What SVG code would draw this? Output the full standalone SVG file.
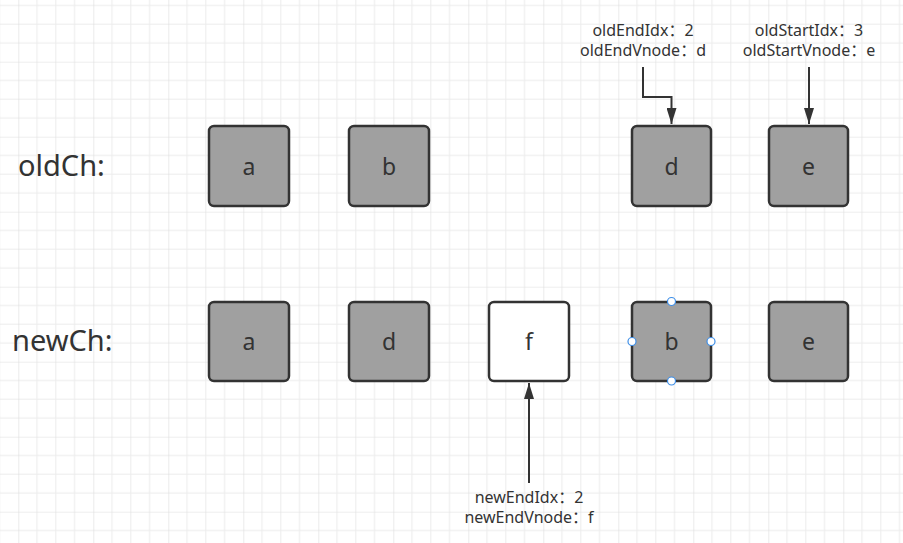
<svg xmlns="http://www.w3.org/2000/svg" width="903" height="543" viewBox="0 0 903 543">
  <defs>
    <pattern id="grid" patternUnits="userSpaceOnUse" x="18.3" y="-13.3" width="75" height="75">
      <rect width="75" height="75" fill="#ffffff"/>
      <path d="M18.75 0V75M37.5 0V75M56.25 0V75M0 18.75H75M0 37.5H75M0 56.25H75" stroke="#ececec" stroke-width="1" fill="none"/>
      <path d="M0 0V75M0 0H75" stroke="#dedede" stroke-width="1.2" fill="none"/>
    </pattern>
    <marker id="arrow" viewBox="0 0 16 10" refX="16" refY="5" markerWidth="16" markerHeight="10" markerUnits="userSpaceOnUse" orient="auto">
      <path d="M0 0L16 5L0 10Z" fill="#333333"/>
    </marker>
    <style>
      .box { stroke: #333333; stroke-width: 2.5; }
      .gray { fill: #a0a0a0; }
      .white { fill: #ffffff; }
      .lbl { font-family: "Noto Sans", "Noto Sans CJK SC", sans-serif; font-size: 23px; fill: #333333; text-anchor: middle; }
      .row { font-family: "Noto Sans", "Noto Sans CJK SC", sans-serif; font-size: 29px; fill: #333333; }
      .ann { font-family: "Noto Sans", "Noto Sans CJK SC", sans-serif; font-size: 16px; fill: #333333; text-anchor: middle; }
      .conn { stroke: #333333; stroke-width: 2; fill: none; marker-end: url(#arrow); }
      .handle { fill: #ffffff; stroke: #3d8ee8; stroke-width: 1.2; }
    </style>
  </defs>
  <rect width="903" height="543" fill="url(#grid)"/>

  <text class="row" x="18" y="176">oldCh:</text>
  <text class="row" x="12" y="351">newCh:</text>

  <g id="old-a"><rect class="box gray" x="209" y="126" width="80" height="80" rx="5"/><text class="lbl" x="249" y="175">a</text></g>
  <g id="old-b"><rect class="box gray" x="349" y="126" width="80" height="80" rx="5"/><text class="lbl" x="389" y="175">b</text></g>
  <g id="old-d"><rect class="box gray" x="632" y="126" width="79" height="80" rx="5"/><text class="lbl" x="671.5" y="175">d</text></g>
  <g id="old-e"><rect class="box gray" x="769" y="126" width="79" height="80" rx="5"/><text class="lbl" x="808.5" y="175">e</text></g>

  <g id="new-a"><rect class="box gray" x="209" y="302" width="80" height="79" rx="5"/><text class="lbl" x="249" y="350">a</text></g>
  <g id="new-d"><rect class="box gray" x="349" y="302" width="80" height="79" rx="5"/><text class="lbl" x="389" y="350">d</text></g>
  <g id="new-f"><rect class="box white" x="489" y="302" width="80" height="79" rx="5"/><text class="lbl" x="529" y="350">f</text></g>
  <g id="new-b"><rect class="box gray" x="632" y="302" width="79" height="79" rx="5"/><text class="lbl" x="671.5" y="350">b</text>
    <circle class="handle" cx="671.5" cy="301.5" r="4"/>
    <circle class="handle" cx="632" cy="341.5" r="4"/>
    <circle class="handle" cx="711" cy="341.5" r="4"/>
    <circle class="handle" cx="671.5" cy="381" r="4"/>
  </g>
  <g id="new-e"><rect class="box gray" x="769" y="302" width="79" height="79" rx="5"/><text class="lbl" x="808.5" y="350">e</text></g>

  <g id="label-oldEnd"><text class="ann" x="643" y="36">oldEndIdx：2</text><text class="ann" x="643" y="56">oldEndVnode：d</text></g>
  <g id="label-oldStart"><text class="ann" x="809" y="36">oldStartIdx：3</text><text class="ann" x="809" y="56">oldStartVnode：e</text></g>
  <g id="label-newEnd"><text class="ann" x="529" y="503">newEndIdx：2</text><text class="ann" x="529" y="523">newEndVnode：f</text></g>

  <g id="connectors">
    <path class="conn" d="M643 67V97H671.5V124"/>
    <path class="conn" d="M809 67V124"/>
    <path class="conn" d="M529 483V383"/>
  </g>
</svg>
